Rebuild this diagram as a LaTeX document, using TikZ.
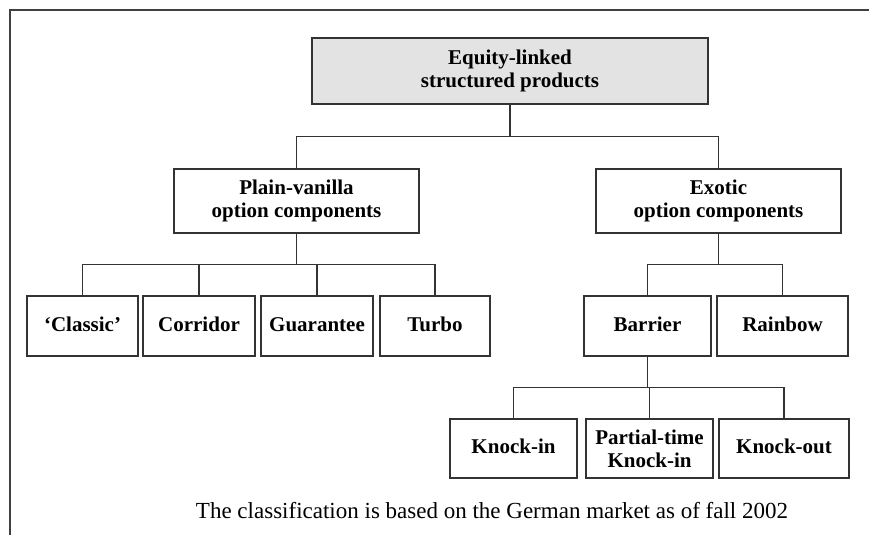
\documentclass[tikz,border=0pt]{standalone}
\usepackage{fontspec}
\setmainfont{Liberation Serif}
\usetikzlibrary{calc}
\tikzset{
  box/.style={draw=black!80,line width=1.4pt,fill=white,inner sep=0pt,align=center,
    font=\fontsize{21}{23}\selectfont\bfseries,minimum height=60pt},
  leaf/.style={box,text height=14pt,text depth=4pt},
  link/.style={draw=black!80,line width=1.4pt}
}
\begin{document}
\begin{tikzpicture}[x=1pt,y=-1pt]
	\useasboundingbox (0,0) rectangle (869,535);
	% frame
	\draw[black!75,line width=1.5pt] (869,10)--(10,10)--(10,535);
	% top level
	\node[box,fill=black!11,minimum width=396pt,minimum height=66pt] (root) at (510,71) {Equity-linked\\structured products};
	\node[box,minimum width=245pt,minimum height=64pt] (plain) at (296.5,201) {Plain-vanilla\\option components};
	\node[box,minimum width=245pt,minimum height=64pt] (exotic) at (718.5,201) {Exotic\\option components};
	% plain-vanilla children
	\node[leaf,minimum width=111pt] (classic) at (82.5,326) {`Classic'};
	\node[leaf,minimum width=112pt] (corridor) at (199,326) {Corridor};
	\node[leaf,minimum width=112pt] (guarantee) at (317,326) {Guarantee};
	\node[leaf,minimum width=110pt] (turbo) at (435,326) {Turbo};
	% exotic children
	\node[leaf,minimum width=127pt] (barrier) at (647.5,326) {Barrier};
	\node[leaf,minimum width=131pt] (rainbow) at (782.5,326) {Rainbow};
	% barrier children
	\node[leaf,minimum width=127pt,minimum height=59pt] (knockin) at (513.5,448.5) {Knock-in};
	\node[box,minimum width=127pt,minimum height=59pt] (partial) at (649.5,448.5) {Partial-time\\Knock-in};
	\node[leaf,minimum width=130pt,minimum height=59pt] (knockout) at (784,448.5) {Knock-out};
	% connectors
	\foreach \p/\c in {root/plain,root/exotic,plain/classic,plain/corridor,plain/guarantee,plain/turbo,
	  exotic/barrier,exotic/rainbow,barrier/knockin,barrier/partial,barrier/knockout}
	  \draw[link] (\p.south) |- ($(\p.south)!.5!(\c.north)$) -| (\c.north);
	% caption
	\node[font=\fontsize{23}{26}\selectfont] (caption) at (492,511) {The classification is based on the German market as of fall 2002};
\end{tikzpicture}
\end{document}
